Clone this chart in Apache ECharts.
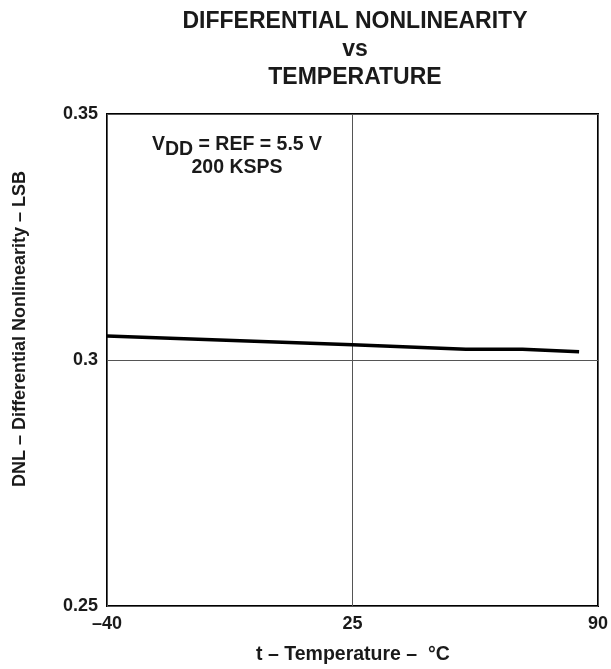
<!DOCTYPE html>
<html>
<head>
<meta charset="utf-8">
<script src="https://cdn.jsdelivr.net/npm/echarts@6/dist/echarts.min.js"></script>
<style>html,body{margin:0;padding:0;background:#fff}#c{width:611px;height:669px}</style>
</head>
<body>
<div id="c"></div>
<script>
const temperatures = [-40, 25, 55, 70, 85];
const dnlValues = [0.3049, 0.3031, 0.3022, 0.3022, 0.3017];
const xTicks = [-40, 25, 90];
const yTicks = [0.25, 0.3, 0.35];
const titleLines = ['DIFFERENTIAL NONLINEARITY', 'vs', 'TEMPERATURE'];
const xAxisTitle = 't – Temperature –  °C';
const yAxisTitle = 'DNL – Differential Nonlinearity – LSB';

const FONT = 'Liberation Sans, Arial, Helvetica, sans-serif';
const chart = echarts.init(document.getElementById('c'), null, {renderer: 'canvas'});
const data = temperatures.map((t, i) => [t, dnlValues[i]]);

chart.setOption({
  backgroundColor: '#fff',
  animation: false,
  grid: {left: 107, right: 10, top: 114, bottom: 63, show: true, borderColor: '#000', borderWidth: 2, backgroundColor: 'transparent'},
  xAxis: {
    type: 'value', min: xTicks[0], max: xTicks[xTicks.length - 1], interval: xTicks[1] - xTicks[0],
    axisLine: {show: false}, axisTick: {show: false},
    splitLine: {show: true, lineStyle: {color: '#555', width: 1}},
    axisLabel: {color: '#1a1a1a', fontFamily: FONT, fontWeight: 'bold', fontSize: 18, margin: 9,
      formatter: v => String(v).replace('-', '–')}
  },
  yAxis: {
    type: 'value', min: yTicks[0], max: yTicks[yTicks.length - 1], interval: 0.05,
    axisLine: {show: false}, axisTick: {show: false},
    splitLine: {show: true, lineStyle: {color: '#555', width: 1}},
    axisLabel: {color: '#1a1a1a', fontFamily: FONT, fontWeight: 'bold', fontSize: 18, margin: 9,
      formatter: v => String(+v.toFixed(2))}
  },
  series: [{
    type: 'line', data: data, symbol: 'none', smooth: false,
    lineStyle: {color: '#000', width: 3.5}
  }],
  graphic: [
    {type: 'text', x: 355, y: 22, style: {text: titleLines[0], fill: '#1a1a1a', font: 'bold 23px ' + FONT, align: 'center', verticalAlign: 'middle'}},
    {type: 'text', x: 355, y: 50, style: {text: titleLines[1], fill: '#1a1a1a', font: 'bold 23px ' + FONT, align: 'center', verticalAlign: 'middle'}},
    {type: 'text', x: 355, y: 78, style: {text: titleLines[2], fill: '#1a1a1a', font: 'bold 23px ' + FONT, align: 'center', verticalAlign: 'middle'}},
    {type: 'text', x: 20, y: 329, rotation: Math.PI / 2, style: {text: yAxisTitle, fill: '#1a1a1a', font: 'bold 18px ' + FONT, align: 'center', verticalAlign: 'middle'}},
    {type: 'text', x: 353, y: 655, style: {text: xAxisTitle, fill: '#1a1a1a', font: 'bold 19.5px ' + FONT, align: 'center', verticalAlign: 'middle'}},
    {type: 'text', x: 237, y: 135, style: {
      text: '{m|V}{s|DD}{m| = REF = 5.5 V}\n{m|200 KSPS}', align: 'center',
      rich: {
        m: {fill: '#1a1a1a', fontFamily: FONT, fontWeight: 'bold', fontSize: 19.5, lineHeight: 23, verticalAlign: 'top'},
        s: {fill: '#1a1a1a', fontFamily: FONT, fontWeight: 'bold', fontSize: 19.5, lineHeight: 23, verticalAlign: 'top', padding: [5, 0, 0, 0]}
      }
    }}
  ]
});
</script>
</body>
</html>
